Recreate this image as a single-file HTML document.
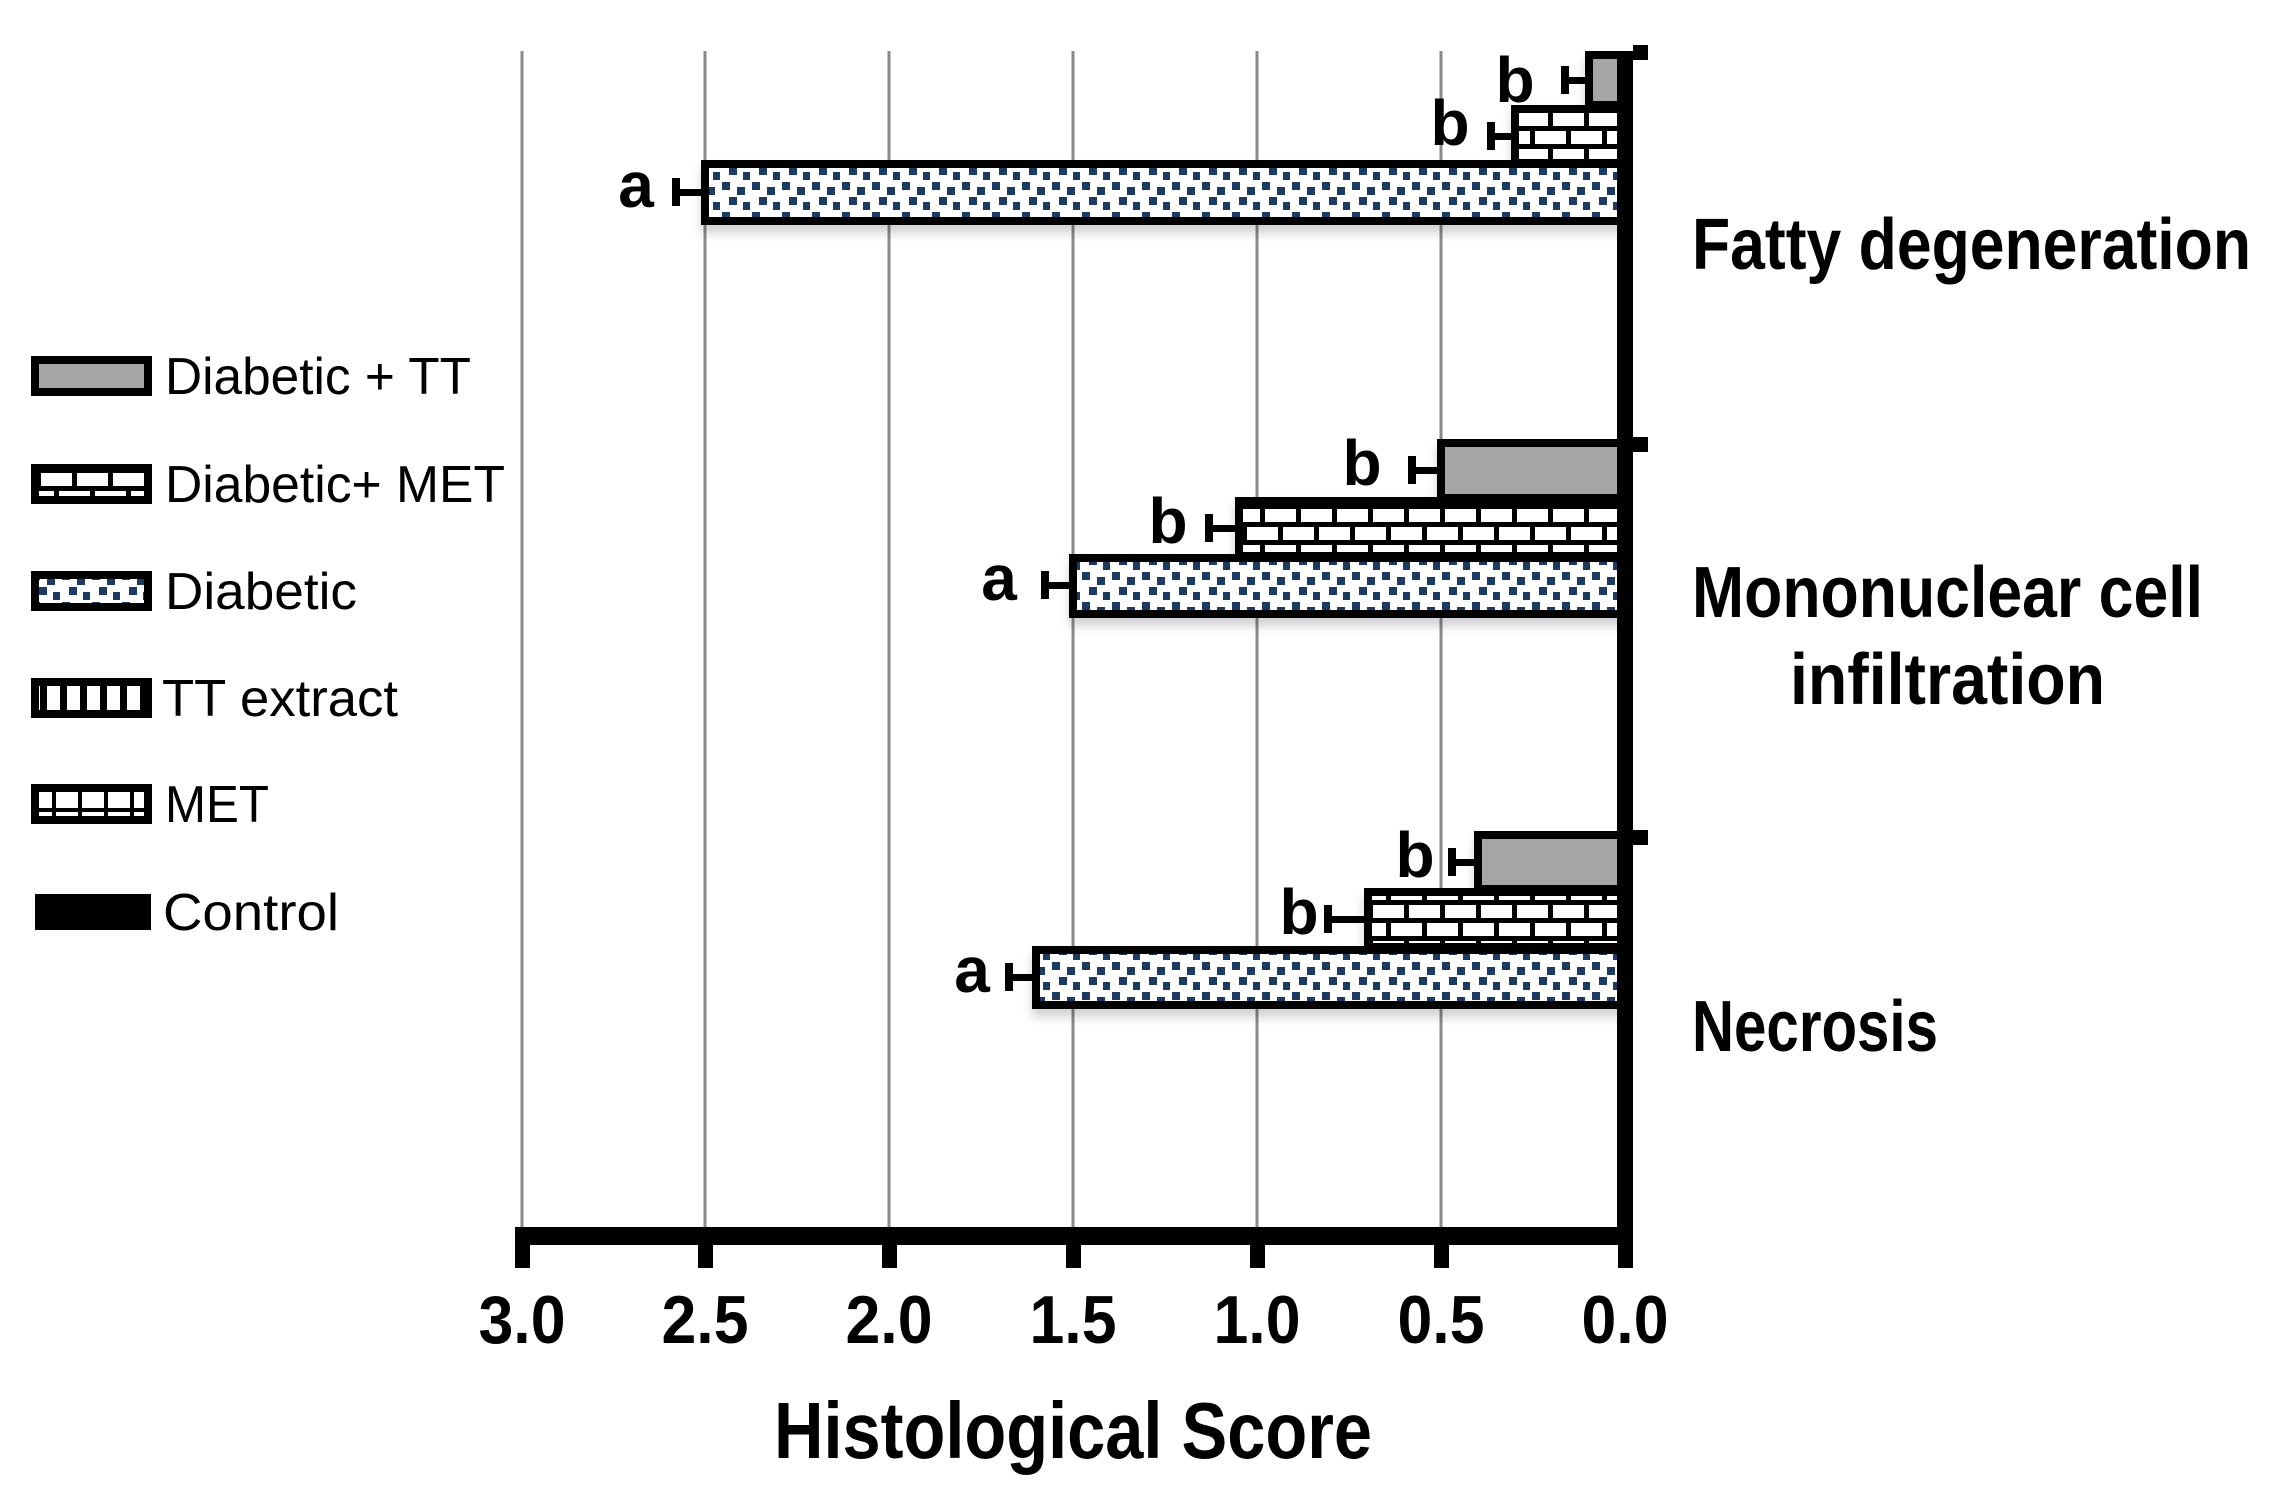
<!DOCTYPE html>
<html><head><meta charset="utf-8"><style>html,body{margin:0;padding:0;background:#fff}svg{display:block}</style></head>
<body>
<svg width="2276" height="1489" viewBox="0 0 2276 1489" xmlns="http://www.w3.org/2000/svg">
<defs>
<pattern id="dots" width="30" height="30" patternUnits="userSpaceOnUse">
<rect width="30" height="30" fill="#fff"/>
<rect x="2" y="2" width="8" height="8" fill="#1c3a62"/>
<rect x="17" y="7" width="8" height="8" fill="#1c3a62"/>
<rect x="9" y="17" width="8" height="8" fill="#1c3a62"/>
<rect x="23" y="22" width="8" height="8" fill="#1c3a62"/>
</pattern>
<pattern id="brick" width="36" height="36" patternUnits="userSpaceOnUse">
<rect width="36" height="36" fill="#fff"/>
<rect y="0" width="36" height="5" fill="#000"/>
<rect y="18" width="36" height="5" fill="#000"/>
<rect x="0" y="0" width="5" height="18" fill="#000"/>
<rect x="18" y="18" width="5" height="18" fill="#000"/>
</pattern>
<pattern id="vert" width="20" height="36" patternUnits="userSpaceOnUse">
<rect width="20" height="36" fill="#fff"/><rect width="7" height="36" fill="#000"/>
</pattern>
<pattern id="met" width="26" height="20" patternUnits="userSpaceOnUse">
<rect width="26" height="20" fill="#fff"/><rect y="8" width="26" height="4" fill="#000"/><rect x="0" width="4" height="20" fill="#000"/>
</pattern>
<filter id="sh" x="-5%" y="-20%" width="110%" height="160%"><feDropShadow dx="0" dy="8" stdDeviation="5" flood-color="#000" flood-opacity="0.18"/></filter>
</defs>

<g stroke="#8a8a8a" stroke-width="3">
<line x1="522" y1="51" x2="522" y2="1228"/>
<line x1="705" y1="51" x2="705" y2="1228"/>
<line x1="889" y1="51" x2="889" y2="1228"/>
<line x1="1073" y1="51" x2="1073" y2="1228"/>
<line x1="1257" y1="51" x2="1257" y2="1228"/>
<line x1="1441" y1="51" x2="1441" y2="1228"/>
</g>

<g stroke="#000" stroke-width="8" filter="url(#sh)">
<rect x="1589" y="55" width="33" height="50" fill="#a6a6a6"/>
<rect x="1515" y="109" width="107" height="54" fill="url(#brick)"/>
<rect x="705" y="164" width="917" height="57" fill="url(#dots)"/>
<rect x="1441" y="443" width="181" height="55" fill="#a6a6a6"/>
<rect x="1239" y="501" width="383" height="55" fill="url(#brick)"/>
<rect x="1073" y="558" width="549" height="56" fill="url(#dots)"/>
<rect x="1478" y="835" width="144" height="54" fill="#a6a6a6"/>
<rect x="1368" y="892" width="254" height="55" fill="url(#brick)"/>
<rect x="1036" y="950" width="586" height="55" fill="url(#dots)"/>
</g>

<g fill="#000">
<rect x="1561" y="77" width="28" height="7"/><rect x="1561" y="66" width="8" height="28"/>
<rect x="1487" y="133" width="28" height="7"/><rect x="1487" y="122" width="8" height="28"/>
<rect x="672" y="189" width="33" height="7"/><rect x="672" y="178" width="8" height="28"/>
<rect x="1408" y="467" width="33" height="7"/><rect x="1408" y="456" width="8" height="28"/>
<rect x="1205" y="525" width="34" height="7"/><rect x="1205" y="514" width="8" height="28"/>
<rect x="1041" y="582" width="32" height="7"/><rect x="1041" y="571" width="8" height="28"/>
<rect x="1448" y="859" width="30" height="7"/><rect x="1448" y="848" width="8" height="28"/>
<rect x="1324" y="916" width="44" height="7"/><rect x="1324" y="905" width="8" height="28"/>
<rect x="1005" y="974" width="31" height="7"/><rect x="1005" y="963" width="8" height="28"/>
</g>

<g font-family="Liberation Sans, sans-serif" font-weight="bold" font-size="64" text-anchor="middle" fill="#000">
<text x="1515" y="102">b</text>
<text x="1450" y="145">b</text>
<text x="636" y="207">a</text>
<text x="1362" y="485">b</text>
<text x="1168" y="543">b</text>
<text x="999" y="600">a</text>
<text x="1415" y="877">b</text>
<text x="1299" y="934">b</text>
<text x="972" y="992">a</text>
</g>

<rect x="1617" y="51" width="16" height="1194" fill="#000"/>
<rect x="522" y="1227" width="1111" height="18" fill="#000"/>
<g fill="#000">
<rect x="1633" y="45" width="15" height="15"/>
<rect x="1633" y="437" width="15" height="15"/>
<rect x="1633" y="830" width="15" height="15"/>
<rect x="515" y="1227" width="15" height="41"/>
<rect x="698" y="1240" width="15" height="28"/>
<rect x="882" y="1240" width="15" height="28"/>
<rect x="1066" y="1240" width="15" height="28"/>
<rect x="1250" y="1240" width="15" height="28"/>
<rect x="1434" y="1240" width="15" height="28"/>
<rect x="1618" y="1240" width="15" height="28"/>
</g>

<g font-family="Liberation Sans, sans-serif" font-weight="bold" font-size="68" text-anchor="middle" fill="#000">
<text x="522" y="1343" textLength="87" lengthAdjust="spacingAndGlyphs">3.0</text>
<text x="705" y="1343" textLength="87" lengthAdjust="spacingAndGlyphs">2.5</text>
<text x="889" y="1343" textLength="87" lengthAdjust="spacingAndGlyphs">2.0</text>
<text x="1073" y="1343" textLength="87" lengthAdjust="spacingAndGlyphs">1.5</text>
<text x="1257" y="1343" textLength="87" lengthAdjust="spacingAndGlyphs">1.0</text>
<text x="1441" y="1343" textLength="87" lengthAdjust="spacingAndGlyphs">0.5</text>
<text x="1625" y="1343" textLength="87" lengthAdjust="spacingAndGlyphs">0.0</text>
<text x="1073" y="1458" font-size="80" textLength="598" lengthAdjust="spacingAndGlyphs">Histological Score</text>
</g>

<g font-family="Liberation Sans, sans-serif" font-weight="bold" font-size="72" fill="#000">
<text x="1692" y="269" textLength="559" lengthAdjust="spacingAndGlyphs">Fatty degeneration</text>
<text x="1692" y="617" textLength="511" lengthAdjust="spacingAndGlyphs">Mononuclear cell</text>
<text x="1790" y="704" textLength="315" lengthAdjust="spacingAndGlyphs">infiltration</text>
<text x="1692" y="1051" textLength="246" lengthAdjust="spacingAndGlyphs">Necrosis</text>
</g>

<g stroke="#000" stroke-width="8">
<rect x="35" y="360" width="113" height="32" fill="#a6a6a6"/>
<rect x="35" y="468" width="113" height="32" fill="url(#brick)"/>
<rect x="35" y="575" width="113" height="32" fill="url(#dots)"/>
<rect x="35" y="682" width="113" height="32" fill="url(#vert)"/>
<rect x="35" y="788" width="113" height="32" fill="url(#met)"/>
</g>
<rect x="35" y="894" width="116" height="36" fill="#000"/>
<g font-family="Liberation Sans, sans-serif" font-size="52" fill="#000">
<text x="165" y="394" textLength="306" lengthAdjust="spacingAndGlyphs">Diabetic + TT</text>
<text x="165" y="502" textLength="340" lengthAdjust="spacingAndGlyphs">Diabetic+ MET</text>
<text x="165" y="609" textLength="192" lengthAdjust="spacingAndGlyphs">Diabetic</text>
<text x="162" y="716" textLength="236" lengthAdjust="spacingAndGlyphs">TT extract</text>
<text x="165" y="822" textLength="104" lengthAdjust="spacingAndGlyphs">MET</text>
<text x="163" y="930" textLength="176" lengthAdjust="spacingAndGlyphs">Control</text>
</g>
</svg>
</body></html>
